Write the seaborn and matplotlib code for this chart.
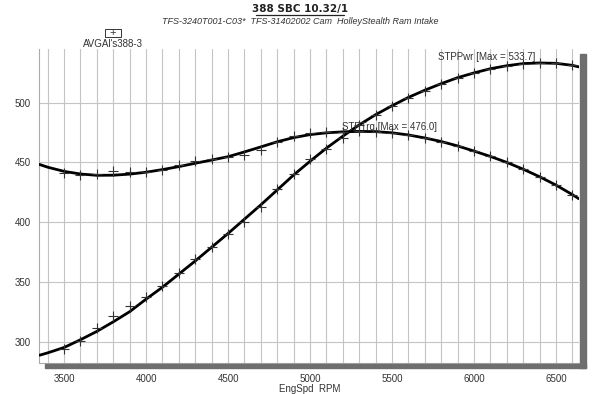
import matplotlib
matplotlib.use("Agg")
import matplotlib.pyplot as plt
import seaborn as sns
import numpy as np
from matplotlib.patches import Rectangle
from matplotlib.lines import Line2D

# smoothed curves, every 100 rpm
curve_rpm = [3350, 3400, 3500, 3600, 3700, 3800, 3900, 4000, 4100, 4200, 4300, 4400,
             4500, 4600, 4700, 4800, 4900, 5000, 5100, 5200, 5300, 5400, 5500, 5600,
             5700, 5800, 5900, 6000, 6100, 6200, 6300, 6400, 6500, 6600, 6640]
trq_curve = [448.3, 446.0, 442.5, 440.3, 439.2, 439.3, 440.2, 441.8, 444.0, 446.5, 449.3, 452.0,
             454.8, 458.8, 463.0, 467.3, 470.8, 473.3, 474.8, 475.6, 476.0, 475.8, 474.8, 473.0,
             470.5, 467.5, 463.8, 459.5, 455.0, 450.0, 444.3, 438.0, 431.0, 423.0, 419.5]
pwr_curve = [288.5, 290.5, 295.0, 301.5, 308.5, 316.5, 325.0, 335.5, 345.5, 356.5, 367.5, 379.0,
             390.5, 402.5, 414.5, 427.0, 439.5, 451.0, 462.0, 472.0, 481.5, 490.0, 497.5, 504.5,
             510.5, 516.0, 521.0, 525.0, 528.5, 531.0, 532.8, 533.3, 533.0, 531.3, 530.0]

# measured points (the + marks)
pt_rpm = [3500, 3600, 3700, 3800, 3900, 4000, 4100, 4200, 4300, 4400, 4500, 4600, 4700,
          4800, 4900, 5000, 5100, 5200, 5300, 5400, 5500, 5600, 5700, 5800, 5900, 6000,
          6100, 6200, 6300, 6400, 6500, 6600]
trq_pts = [441.3, 439.6, 440.5, 442.4, 441.6, 441.8, 443.3, 447.5, 450.8, 452.8, 454.5, 456.5,
           460.5, 467.0, 472.5, 474.5, 475.5, 475.8, 476.0, 475.5, 474.5, 472.8, 470.3, 467.5,
           463.8, 459.5, 455.0, 450.0, 444.3, 438.0, 431.0, 423.0]
pwr_pts = [293.9, 300.8, 311.0, 321.0, 329.4, 337.2, 346.6, 357.8, 369.0, 379.0, 390.0, 400.0,
           412.6, 427.5, 440.0, 452.5, 461.5, 470.5, 481.7, 489.6, 497.2, 504.2, 510.2, 516.0,
           521.0, 525.0, 528.5, 531.0, 532.8, 533.3, 533.0, 531.3]

sns.set_style("white")
plt.rcParams['font.family'] = ['Liberation Sans', 'DejaVu Sans']

W, H = 600, 394
fig = plt.figure(figsize=(6, 3.94), dpi=100)
L, R, T, B = 39.5, 579, 49, 363
ax = fig.add_axes([L / W, 1 - B / H, (R - L) / W, (B - T) / H])

grid_c = '#c4c4c4'
ax.set_xlim(3350, 6640)
ax.set_ylim(282, 545)
ax.set_xticks(range(3500, 6501, 500))
ax.set_xticks(range(3400, 6641, 100), minor=True)
ax.set_yticks(range(300, 501, 50))
ax.set_yticks(range(290, 541, 10), minor=True)
ax.grid(True, which='major', color=grid_c, lw=0.8)
ax.grid(True, which='minor', axis='x', color=grid_c, lw=0.8)
ax.tick_params(axis='both', which='both', labelsize=7, colors='#888888', labelcolor='#333333')
ax.tick_params(axis='y', which='major', direction='in', length=0, pad=6)
ax.tick_params(axis='y', which='minor', direction='in', length=4, width=0.6)
ax.tick_params(axis='x', which='both', length=0, pad=8)
for s in ['top', 'right']:
    ax.spines[s].set_visible(False)
for s in ['left', 'bottom']:
    ax.spines[s].set_color('#aaaaaa')
    ax.spines[s].set_linewidth(0.8)

sns.lineplot(x=curve_rpm, y=trq_curve, ax=ax, color='black', lw=2.0, zorder=3)
sns.lineplot(x=curve_rpm, y=pwr_curve, ax=ax, color='black', lw=2.0, zorder=3)
ax.scatter(pt_rpm, trq_pts, marker='+', s=45, color='#333333', lw=0.8, zorder=4)
ax.scatter(pt_rpm, pwr_pts, marker='+', s=45, color='#333333', lw=0.8, zorder=4)

ax.set_xlabel('EngSpd  RPM', fontsize=7, color='#333333', labelpad=0)
ax.set_ylabel('')

ax.text(5195, 480, 'STPTrq [Max = 476.0]', fontsize=7, color='#333333', va='center')
ax.text(5780, 538.5, 'STPPwr [Max = 533.7]', fontsize=7, color='#333333', va='center')

# shadow bars of the frame
fig.patches.append(Rectangle((45 / W, 1 - 368 / H), 541 / W, 4.5 / H,
                             transform=fig.transFigure, color='#6e6e6e', zorder=0))
fig.patches.append(Rectangle((580 / W, 1 - 368 / H), 5.5 / W, 314 / H,
                             transform=fig.transFigure, color='#6e6e6e', zorder=0))

# title block
fig.text(0.5, 1 - 9 / H, '388 SBC 10.32/1', ha='center', va='center', family='DejaVu Sans',
         fontsize=7.5, fontweight='bold', color='#222222')
fig.lines.append(Line2D([256 / W, 344 / W], [1 - 15 / H, 1 - 15 / H],
                        transform=fig.transFigure, color='#222222', lw=0.9))
fig.text(0.5, 1 - 21 / H, 'TFS-3240T001-C03*  TFS-31402002 Cam  HolleyStealth Ram Intake',
         ha='center', va='center', fontsize=6.5, style='italic', color='#333333')

# legend
fig.patches.append(Rectangle((105 / W, 1 - 37 / H), 16 / W, 8 / H, transform=fig.transFigure,
                             fill=False, edgecolor='#333333', lw=0.7))
fig.text(113 / W, 1 - 33 / H, '+', ha='center', va='center', fontsize=8, color='#333333')
fig.text(113 / W, 1 - 44 / H, "AVGAl's388-3", ha='center', va='center', fontsize=7, color='#333333')

fig.savefig('out.png', dpi=100)
